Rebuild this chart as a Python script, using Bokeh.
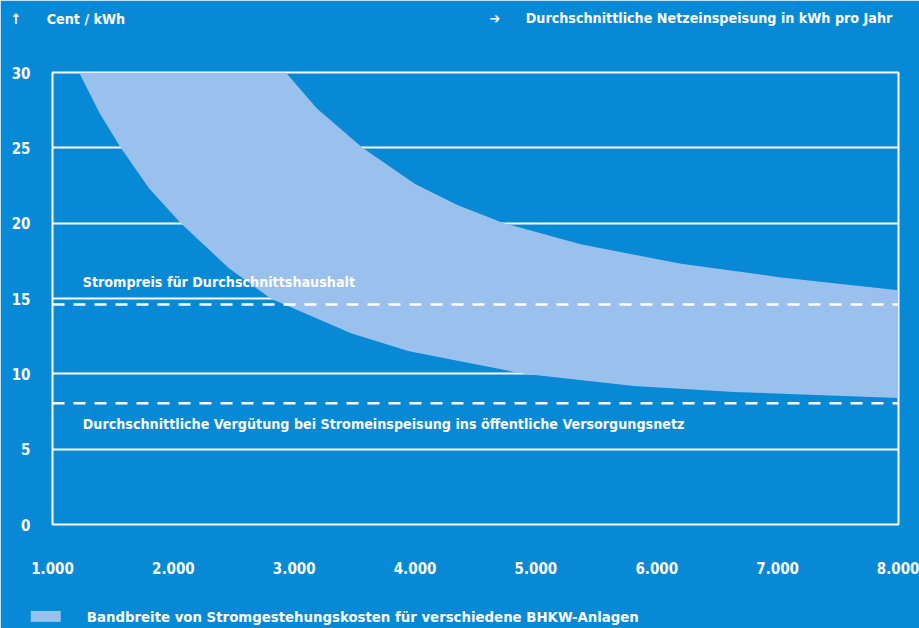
from bokeh.plotting import figure
from bokeh.models import Range1d, FixedTicker, Label, Span
from bokeh.embed import file_html
from bokeh.resources import INLINE

# ---- data ----
x_ticks = [1000, 2000, 3000, 4000, 5000, 6000, 7000, 8000]
x_tick_labels = ["1.000", "2.000", "3.000", "4.000", "5.000", "6.000", "7.000", "8.000"]
y_ticks = [0, 5, 10, 15, 20, 25, 30]

# lower edge of the cost band (Cent/kWh vs kWh per year)
lower_x = [1220, 1390, 1565, 1800, 2062, 2460, 2806, 3470, 3950, 4900, 5810, 6640, 8000]
lower_y = [30.0, 27.3, 25.0, 22.3, 20.0, 17.0, 15.0, 12.7, 11.5, 10.0, 9.2, 8.8, 8.4]
# upper edge of the cost band
upper_x = [2930, 3190, 3565, 4000, 4350, 4735, 5370, 6200, 7030, 8000]
upper_y = [30.0, 27.6, 25.0, 22.6, 21.2, 20.0, 18.6, 17.3, 16.4, 15.55]

household_price = 14.6   # Strompreis für Durchschnittshaushalt
feed_in_tariff = 8.05    # Durchschnittliche Vergütung

# ---- styling ----
BG = "#0889d6"
BAND = "#9ac1ee"
WHITE = "#ffffff"
FONT = "DejaVu Sans Condensed, DejaVu Sans"

p = figure(width=919, height=628, frame_width=846, frame_height=452,
           output_backend="svg", toolbar_location=None,
           x_range=Range1d(1000, 8000), y_range=Range1d(0, 30),
           min_border_left=52, min_border_right=21, min_border_top=72, min_border_bottom=104)

p.background_fill_color = BG
p.border_fill_color = BG
p.outline_line_color = WHITE
p.outline_line_width = 2

# band
band_xs = lower_x + upper_x[::-1]
band_ys = lower_y + upper_y[::-1]
band = p.patch(band_xs, band_ys, fill_color=BAND, line_color=None)

# reference lines
for val in (household_price, feed_in_tariff):
    p.add_layout(Span(location=val, dimension="width", line_color=WHITE,
                      line_width=2.5, line_dash="12 9", level="overlay"))

# grid
p.xgrid.visible = False
p.ygrid.ticker = FixedTicker(ticks=y_ticks)
p.ygrid.grid_line_color = WHITE
p.ygrid.grid_line_width = 2

# axes
p.xaxis.ticker = FixedTicker(ticks=x_ticks)
p.xaxis.major_label_overrides = {t: l for t, l in zip(x_ticks, x_tick_labels)}
p.yaxis.ticker = FixedTicker(ticks=y_ticks)
for ax in (p.xaxis[0], p.yaxis[0]):
    ax.axis_line_color = None
    ax.major_tick_line_color = None
    ax.minor_tick_line_color = None
    ax.major_tick_out = 0
    ax.major_tick_in = 0
    ax.major_label_text_color = WHITE
    ax.major_label_text_font = FONT
    ax.major_label_text_font_style = "bold"
    ax.major_label_text_font_size = "15px"
p.xaxis.major_label_standoff = 37
p.yaxis.major_label_standoff = 22

TXT = dict(text_color=WHITE, text_font=FONT, text_font_style="bold",
           text_font_size="14.2px", text_baseline="middle")

# in-plot labels
p.add_layout(Label(x=1250, y=16.1, text="Strompreis für Durchschnittshaushalt", **TXT))
p.add_layout(Label(x=1250, y=6.67,
                   text="Durchschnittliche Vergütung bei Stromeinspeisung ins öffentliche Versorgungsnetz",
                   **TXT))

# header labels (placed in the top side panel, screen units)
p.add_layout(Label(x=-42, y=54, x_units="screen", y_units="screen",
                   text="↑\u2003\u2003Cent / kWh", **TXT), "above")
p.add_layout(Label(x=437, y=39, x_units="screen", y_units="screen",
                   text="➔\u2003\u2003Durchschnittliche Netzeinspeisung in kWh pro Jahr", **TXT), "above")

# legend below the x axis: colour swatch + text (side panel, positioned in data units)
p.add_layout(Label(x=820, y=-6.1, text="\u2003\u2003\u2003", text_font_size="10px",
                   text_baseline="middle", background_fill_color=BAND,
                   background_fill_alpha=1.0), "below")
p.add_layout(Label(x=1284, y=-6.1,
                   text="Bandbreite von Stromgestehungskosten für verschiedene BHKW-Anlagen",
                   text_color=WHITE, text_font=FONT, text_font_style="bold",
                   text_font_size="14.8px", text_baseline="middle"), "below")

open("out.html", "w").write(file_html(p, INLINE))
